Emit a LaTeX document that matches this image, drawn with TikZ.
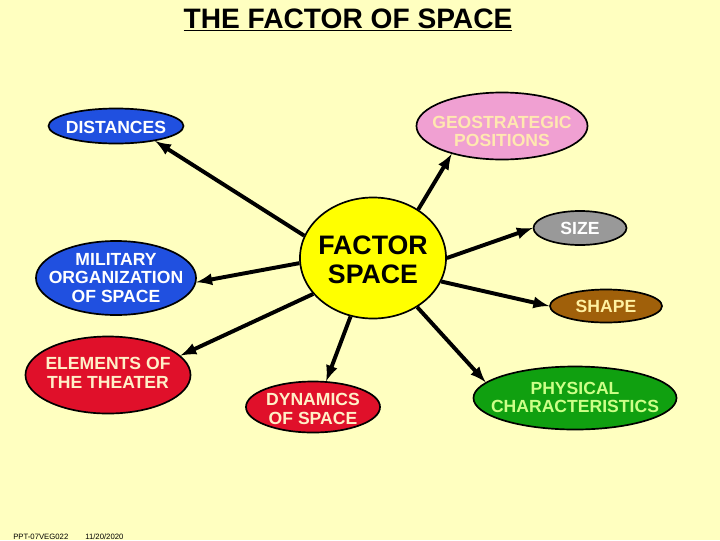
\documentclass[tikz,border=0pt]{standalone}
\usepackage{fontspec}
\setmainfont{Liberation Sans}
\usetikzlibrary{arrows}
\usetikzlibrary{shapes.geometric}
\tikzset{>=latex}
\usepackage{xcolor}
\definecolor{bg}{HTML}{FFFFC0}
\definecolor{c1}{HTML}{FFFF00}
\definecolor{b1}{HTML}{2050E0}
\definecolor{p1}{HTML}{F0A0D2}
\definecolor{p2}{HTML}{FFE8B0}
\definecolor{g1}{HTML}{999999}
\definecolor{br1}{HTML}{A0600A}
\definecolor{br2}{HTML}{FFF0A0}
\definecolor{r1}{HTML}{E0102A}
\definecolor{r2}{HTML}{FFF0C8}
\definecolor{gr1}{HTML}{10A010}
\definecolor{gr2}{HTML}{CCFF88}
\newcommand\bubfont{\fontsize{12.5}{13.2}\selectfont\bfseries}
\tikzstyle{bubble}=[ellipse,draw=black,line width=1.2pt,inner sep=0pt]
\tikzstyle{bubble text}=[font=\bubfont,align=center,inner sep=0pt]
\tikzstyle{spoke}=[->,line width=2.8pt]

\begin{document}
\begin{tikzpicture}[x=0.025cm,y=-0.025cm]
  \fill[bg] (0,0) rectangle (720,540);
  \useasboundingbox (0,0) rectangle (720,540);
  \node[anchor=base,font=\fontsize{20}{24}\selectfont\bfseries] (title) at (348,28) {\underline{THE FACTOR OF SPACE}};
  % centre
  \node[bubble,fill=c1,minimum width=3.65cm,minimum height=3.025cm,
    label={[bubble text,yshift=-1.5pt,font=\fontsize{19}{20.6}\selectfont\bfseries]center:FACTOR\\SPACE}] (fac) at (373,258) {};
  % left side
  \node[bubble,fill=b1,minimum width=3.375cm,minimum height=0.875cm,
    label={[bubble text,white,yshift=-1pt]center:DISTANCES}] (dist) at (116,126) {};
  \node[bubble,fill=b1,minimum width=4cm,minimum height=1.85cm,
    label={[bubble text,white]center:MILITARY\\ORGANIZATION\\OF SPACE}] (mil) at (116,278) {};
  \node[bubble,fill=r1,minimum width=4.125cm,minimum height=1.925cm,
    label={[bubble text,r2,yshift=1.5pt]center:ELEMENTS OF\\THE THEATER}] (elem) at (108,375) {};
  \node[bubble,fill=r1,minimum width=3.35cm,minimum height=1.275cm,
    label={[bubble text,r2,yshift=-1.5pt]center:DYNAMICS\\OF SPACE}] (dyn) at (313,407) {};
  % right side
  \node[bubble,fill=p1,minimum width=4.275cm,minimum height=1.675cm,
    label={[bubble text,p2,yshift=-4pt]center:GEOSTRATEGIC\\POSITIONS}] (geo) at (502,126) {};
  \node[bubble,fill=g1,minimum width=2.325cm,minimum height=0.85cm,
    label={[bubble text,white]center:SIZE}] (size) at (580,228) {};
  \node[bubble,fill=br1,minimum width=2.8cm,minimum height=0.825cm,
    label={[bubble text,br2]center:SHAPE}] (shape) at (606,306) {};
  \node[bubble,fill=gr1,minimum width=5.075cm,minimum height=1.575cm,
    label={[bubble text,gr2,yshift=0.5pt]center:PHYSICAL\\CHARACTERISTICS}] (phys) at (575,398) {};
  % arrows
  \draw[spoke] (fac.162) -- (dist.339);
  \draw[spoke] (fac.47) -- (geo.209);
  \draw[spoke] (fac.184) -- (mil.357);
  \draw[spoke] (fac.0) -- (size.180);
  \draw[spoke] (fac.341) -- (shape.180);
  \draw[spoke] (fac.211) -- (elem.15);
  \draw[spoke] (fac.249) -- (dyn.63);
  \draw[spoke] (fac.312) -- (phys.170);
  % footer
  \node[anchor=base west,font=\fontsize{5.5}{6}\selectfont,inner sep=0pt] (ref) at (13,539) {PPT-07VEG022};
  \node[anchor=base west,font=\fontsize{5.5}{6}\selectfont,inner sep=0pt] (date) at (85,539) {11/20/2020};
\end{tikzpicture}
\end{document}
